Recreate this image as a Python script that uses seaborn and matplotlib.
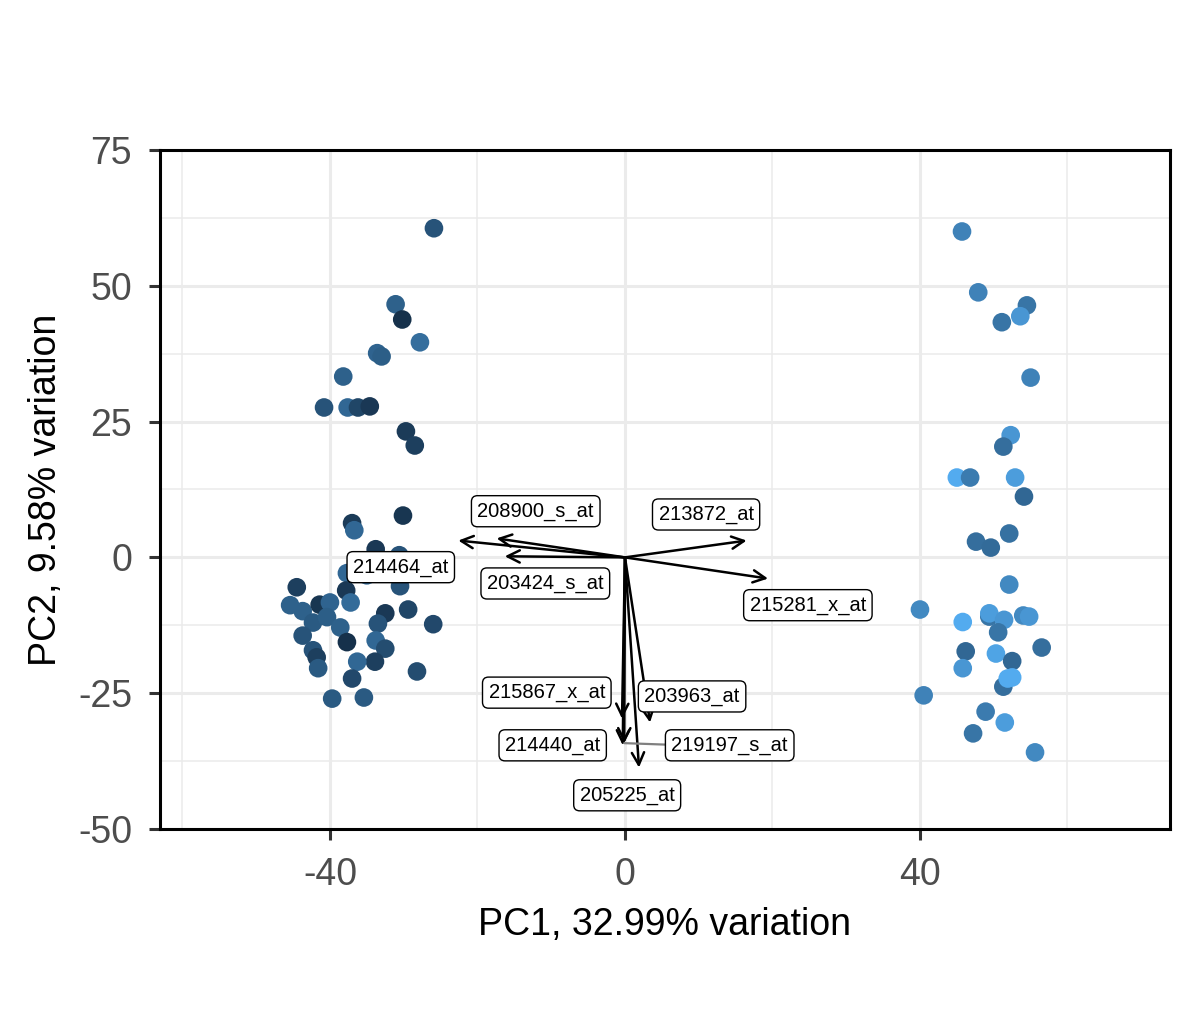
import numpy as np
import pandas as pd
import seaborn as sns
import matplotlib.pyplot as plt
from matplotlib.colors import LinearSegmentedColormap

# sample scores on PC1 / PC2 and the shade of each point (0 = dark, 1 = light)
pc1 = [-25.9, -31.1, -30.2, -27.8, -33.6, -33.0, -38.2, -40.8, -37.6, -36.2,
       -34.6, -29.7, -28.5, -30.1, -37.0, -36.7, -33.8, -30.6, -37.7, -35.0,
       -30.5, -44.5, -37.8, -45.4, -43.7, -41.4, -40.0, -37.2, -29.4, -32.5,
       -26.0, -42.3, -40.4, -38.6, -33.5, -43.7, -33.8, -32.5, -37.7, -42.3,
       -41.8, -33.9, -36.3, -41.6, -28.2, -37.0, -39.7, -35.4,
       45.7, 47.9, 54.5, 53.6, 51.1, 55.0, 52.3, 51.3, 45.0, 46.8,
       52.9, 54.1, 47.6, 49.6, 52.1, 52.1, 40.0, 45.8, 49.4, 49.4,
       51.4, 54.0, 54.8, 50.6, 46.2, 50.3, 52.5, 56.5, 45.8, 51.3,
       51.9, 52.5, 40.5, 48.9, 51.5, 47.2, 55.6]
pc2 = [60.6, 46.6, 43.8, 39.6, 37.6, 37.0, 33.3, 27.6, 27.6, 27.6,
       27.8, 23.2, 20.6, 7.7, 6.3, 5.0, 1.5, 0.4, -2.9, -3.3,
       -5.3, -5.5, -6.1, -8.8, -9.9, -8.7, -8.3, -8.3, -9.6, -10.3,
       -12.3, -12.0, -11.0, -12.9, -12.2, -14.4, -15.3, -16.8, -15.6, -17.1,
       -18.4, -19.2, -19.2, -20.4, -21.0, -22.3, -26.0, -25.8,
       60.0, 48.8, 46.4, 44.4, 43.3, 33.1, 22.5, 20.4, 14.7, 14.7,
       14.7, 11.2, 2.9, 1.8, 4.4, -5.0, -9.6, -11.9, -10.9, -10.3,
       -11.5, -10.7, -10.9, -13.8, -17.3, -17.7, -19.1, -16.6, -20.4, -23.8,
       -22.3, -22.1, -25.4, -28.4, -30.4, -32.4, -35.9]
shade = [0.30, 0.40, 0.05, 0.50, 0.42, 0.38, 0.40, 0.30, 0.45, 0.20,
         0.10, 0.12, 0.15, 0.08, 0.12, 0.45, 0.10, 0.30, 0.45, 0.50,
         0.30, 0.15, 0.10, 0.40, 0.40, 0.08, 0.42, 0.48, 0.20, 0.10,
         0.22, 0.35, 0.38, 0.40, 0.30, 0.30, 0.45, 0.25, 0.05, 0.30,
         0.15, 0.15, 0.45, 0.35, 0.25, 0.22, 0.35, 0.35,
         0.65, 0.65, 0.55, 0.80, 0.55, 0.65, 0.80, 0.50, 0.95, 0.60,
         0.85, 0.45, 0.50, 0.48, 0.52, 0.70, 0.70, 0.95, 0.55, 0.85,
         0.80, 0.70, 0.80, 0.55, 0.45, 0.90, 0.45, 0.50, 0.80, 0.50,
         0.95, 0.95, 0.65, 0.60, 0.85, 0.55, 0.70]

# loadings (arrow tips) and where their labels sit
genes = ["214464_at", "208900_s_at", "203424_s_at", "213872_at", "215281_x_at",
         "215867_x_at", "214440_at", "219197_s_at", "205225_at", "203963_at"]
load_x = [-22.6, -17.4, -16.3, 16.5, 19.4, -0.4, -0.3, -0.1, 1.9, 3.4]
load_y = [3.1, 3.5, 0.2, 3.1, -3.9, -29.7, -34.6, -34.2, -38.7, -30.4]
label_x = [-30.4, -12.1, -10.8, 11.0, 24.8, -10.6, -9.8, 14.2, 0.3, 9.1]
label_y = [-1.8, 8.5, -4.8, 7.9, -8.8, -24.9, -34.6, -34.6, -43.8, -25.6]

df = pd.DataFrame({"PC1": pc1, "PC2": pc2, "shade": shade})

sns.set_style("white")
plt.rcParams["font.family"] = ["Liberation Sans", "DejaVu Sans"]
plt.rcParams["axes.unicode_minus"] = False

fig = plt.figure(figsize=(12, 10.29), dpi=100)
ax = fig.add_axes([0.1333, 0.1944, 0.8417, 0.6598])

# grid first so it stays beneath the points
for v in [-60, -20, 20, 60]:
    ax.axvline(v, color="#EBEBEB", lw=1.1, zorder=0)
for v in [62.5, 37.5, 12.5, -12.5, -37.5]:
    ax.axhline(v, color="#EBEBEB", lw=1.1, zorder=0)
for v in [-40, 0, 40]:
    ax.axvline(v, color="#EBEBEB", lw=2.2, zorder=0)
for v in [75, 50, 25, 0, -25, -50]:
    ax.axhline(v, color="#EBEBEB", lw=2.2, zorder=0)

cmap = LinearSegmentedColormap.from_list("ggblue", ["#132B43", "#56B1F7"])
sns.scatterplot(data=df, x="PC1", y="PC2", hue="shade", palette=cmap,
                hue_norm=(0, 1), s=180, linewidth=0, legend=False, ax=ax, zorder=2)

# loading arrows
for gx, gy in zip(load_x, load_y):
    ax.annotate("", xy=(gx, gy), xytext=(0, 0),
                arrowprops=dict(arrowstyle="->", color="black", lw=1.8,
                                mutation_scale=22, shrinkA=0, shrinkB=0),
                zorder=3)

# connector for the displaced label
ax.plot([load_x[7], label_x[7] - 6.0], [load_y[7], label_y[7]],
        color="#808080", lw=1.6, zorder=3)

for name, lx, ly in zip(genes, label_x, label_y):
    ax.text(lx, ly, name, ha="center", va="center", fontsize=14.5, color="black",
            zorder=4,
            bbox=dict(boxstyle="round,pad=0.3,rounding_size=0.3",
                      fc="white", ec="black", lw=1.0))

ax.set_xlim(-63.05, 73.9)
ax.set_ylim(-50, 75)
ax.set_xticks([-40, 0, 40])
ax.set_yticks([-50, -25, 0, 25, 50, 75])
ax.set_xticklabels(["-40", "0", "40"])
ax.set_yticklabels(["-50", "-25", "0", "25", "50", "75"])
ax.tick_params(axis="both", bottom=True, left=True, direction="out",
               length=8, width=2.2, color="#333333",
               labelsize=27, labelcolor="#4D4D4D", pad=12)
for sp in ax.spines.values():
    sp.set_visible(True)
    sp.set_color("black")
    sp.set_linewidth(2.2)

ax.set_xlabel("PC1, 32.99% variation", fontsize=27, color="black", labelpad=10)
ax.set_ylabel("PC2, 9.58% variation", fontsize=27, color="black", labelpad=10)

fig.savefig("out.png", dpi=100)
